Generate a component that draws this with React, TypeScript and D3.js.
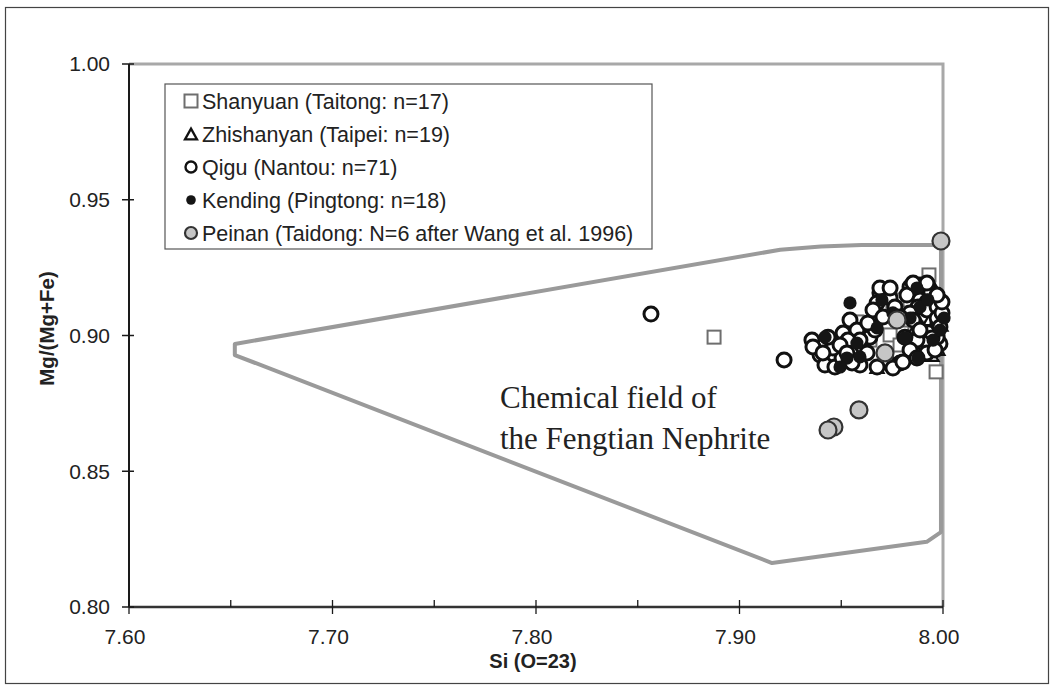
import React from "react";
import * as d3 from "d3";

// Si (O=23) vs Mg/(Mg+Fe) for Taiwanese nephrite localities
type Pt = [number, number];

const shanyuan: Pt[] = [
  [7.8875, 0.8994], [7.9931, 0.9223], [7.9966, 0.8866], [7.9577, 0.905],
  [7.9764, 0.9131], [7.969, 0.9094], [7.9813, 0.9057], [7.9862, 0.9039],
  [7.9912, 0.9075], [7.9961, 0.9112], [7.974, 0.9002], [7.9789, 0.8965],
  [7.9887, 0.8965], [7.9936, 0.902], [7.9641, 0.8983], [7.9838, 0.9131],
  [7.9975, 0.8983],
];

const zhishanyan: Pt[] = [
  [7.9676, 0.8884], [7.9946, 0.8928], [7.9912, 0.91], [7.9936, 0.906],
  [7.9961, 0.902], [7.9985, 0.909], [7.999, 0.904], [7.9975, 0.899],
  [7.995, 0.914], [7.992, 0.916], [7.99, 0.9], [7.996, 0.917],
  [7.993, 0.896], [7.987, 0.912], [7.989, 0.904], [7.9985, 0.912],
  [7.9975, 0.895], [7.985, 0.901], [7.991, 0.894],
];

const qigu: Pt[] = [
  [7.8565, 0.9079], [7.9219, 0.891],
  [7.9356, 0.8983], [7.9396, 0.8928], [7.942, 0.8891], [7.9469, 0.8884],
  [7.9504, 0.8917], [7.9459, 0.8954], [7.9509, 0.9009], [7.9543, 0.9057],
  [7.9592, 0.8891], [7.9607, 0.8958], [7.9641, 0.8994], [7.969, 0.9157],
  [7.9676, 0.912], [7.974, 0.9138], [7.994, 0.916], [7.9666, 0.902],
  [7.9965, 0.913], [7.993, 0.901], [7.9985, 0.897], [7.9725, 0.8902],
  [7.9789, 0.8899], [7.9975, 0.9045], [7.9838, 0.9179], [7.9823, 0.9149],
  [7.9887, 0.9131], [7.9921, 0.9123], [7.9877, 0.9105], [7.9838, 0.9083],
  [7.9853, 0.9057], [7.9921, 0.9094], [7.9971, 0.9105], [7.9971, 0.9064],
  [7.9985, 0.9031], [7.9971, 0.8994], [7.9946, 0.8991], [7.9902, 0.8972],
  [7.9872, 0.8983], [7.9813, 0.8994], [7.9887, 0.902], [7.9838, 0.8947],
  [7.9921, 0.8936], [7.9872, 0.8917], [7.9961, 0.8947], [7.9995, 0.9083],
  [7.9995, 0.9123], [7.9971, 0.9149], [7.9887, 0.9186], [7.9921, 0.9193],
  [7.9853, 0.9193], [7.9627, 0.8936], [7.9577, 0.902], [7.9631, 0.9046],
  [7.9592, 0.8983], [7.9533, 0.8983], [7.9494, 0.8965], [7.9435, 0.8994],
  [7.9361, 0.8958], [7.941, 0.8936], [7.9528, 0.8936], [7.9553, 0.8899],
  [7.9676, 0.8884], [7.9754, 0.888], [7.9656, 0.9094], [7.9705, 0.9068],
  [7.9764, 0.9105], [7.9789, 0.9068], [7.969, 0.9175], [7.974, 0.9175],
  [7.9803, 0.8902],
];

const kending: Pt[] = [
  [7.9543, 0.912], [7.942, 0.8994], [7.9577, 0.8972], [7.9528, 0.8917],
  [7.9592, 0.8921], [7.9676, 0.9028], [7.97, 0.9131], [7.9813, 0.8991],
  [7.9877, 0.8917], [7.9951, 0.8983], [7.9887, 0.9105], [7.9838, 0.9064],
  [7.9926, 0.9131], [7.9985, 0.902], [8.0005, 0.9064], [7.9872, 0.9175],
  [7.9754, 0.9083], [7.9494, 0.8884],
];

const peinan: Pt[] = [
  [7.999, 0.9348], [7.9774, 0.9057], [7.9715, 0.8936],
  [7.9587, 0.8726], [7.9464, 0.8663], [7.9435, 0.8652],
];

// Outline of the Fengtian nephrite chemical field
const fengtianField: Pt[] = [
  [7.652, 0.8969], [7.92, 0.9316], [7.94, 0.9328], [7.96, 0.9333],
  [7.999, 0.9333], [7.999, 0.8276], [7.992, 0.824], [7.916, 0.8162],
  [7.652, 0.8928],
];

const xTicks = [7.6, 7.7, 7.8, 7.9, 8.0];
const xMinorTicks = [7.65, 7.75, 7.85, 7.95];
const yTicks = [0.8, 0.85, 0.9, 0.95, 1.0];

const legendLabels = [
  "Shanyuan (Taitong: n=17)",
  "Zhishanyan (Taipei: n=19)",
  "Qigu (Nantou: n=71)",
  "Kending (Pingtong: n=18)",
  "Peinan (Taidong: N=6 after Wang et al. 1996)",
];

const W = 1057;
const H = 691;
const left = 129;
const right = 943;
const top = 64;
const bottom = 607;

const sans = "'Liberation Sans', Arial, Helvetica, sans-serif";
const serif = "'Liberation Serif', 'Times New Roman', serif";

const x = d3.scaleLinear().domain([7.6, 8.0]).range([left, right]);
const y = d3.scaleLinear().domain([0.8, 1.0]).range([bottom, top]);

function Square({ cx, cy, s = 13 }: { cx: number; cy: number; s?: number }) {
  return (
    <rect x={cx - s / 2} y={cy - s / 2} width={s} height={s}
      fill="white" stroke="#6e6e6e" strokeWidth={2} />
  );
}

function Triangle({ cx, cy, s = 13 }: { cx: number; cy: number; s?: number }) {
  const h = s * 0.9;
  const d = `M${cx},${cy - h / 2}L${cx + s / 2},${cy + h / 2}L${cx - s / 2},${cy + h / 2}Z`;
  return <path d={d} fill="white" stroke="#111" strokeWidth={2.3} />;
}

function OpenCircle({ cx, cy, r = 7, w = 3 }: { cx: number; cy: number; r?: number; w?: number }) {
  return <circle cx={cx} cy={cy} r={r} fill="white" stroke="#111" strokeWidth={w} />;
}

function Dot({ cx, cy, r = 6.6 }: { cx: number; cy: number; r?: number }) {
  return <circle cx={cx} cy={cy} r={r} fill="#151515" />;
}

function GrayCircle({ cx, cy, r = 8.5 }: { cx: number; cy: number; r?: number }) {
  return <circle cx={cx} cy={cy} r={r} fill="#c6c6c6" stroke="#333" strokeWidth={2.2} />;
}

export default function App() {
  const fieldPath = d3.line<Pt>()
    .x((d) => x(d[0]))
    .y((d) => y(d[1]))
    .curve(d3.curveLinearClosed)(fengtianField) || "";

  const legX = 165;
  const legY = 84;
  const legW = 487;
  const legH = 165;
  const legRow = (i: number) => legY + 17 + i * 33;
  const legSymX = legX + 26;
  const legTextX = legX + 37;

  return (
    <svg width={W} height={H} viewBox={`0 0 ${W} ${H}`}
      style={{ position: "absolute", left: 0, top: 0, background: "white" }}>
      {/* outer frame */}
      <rect x={5.5} y={7.5} width={1043} height={676} fill="none" stroke="#444" strokeWidth={1.2} />

      {/* plot area border (top and right) */}
      <path d={`M${left},${top}H${right}V${bottom}`} fill="none" stroke="#a8a8a8" strokeWidth={3} />

      {/* field outline */}
      <path d={fieldPath} fill="none" stroke="#9a9a9a" strokeWidth={4} strokeLinejoin="round" />

      {/* data series */}
      <g>
        {shanyuan.map((d, i) => <Square key={`s${i}`} cx={x(d[0])} cy={y(d[1])} />)}
      </g>
      <g>
        {zhishanyan.map((d, i) => <Triangle key={`z${i}`} cx={x(d[0])} cy={y(d[1])} />)}
      </g>
      <g>
        {qigu.map((d, i) => <OpenCircle key={`q${i}`} cx={x(d[0])} cy={y(d[1])} />)}
      </g>
      <g>
        {kending.map((d, i) => <Dot key={`k${i}`} cx={x(d[0])} cy={y(d[1])} />)}
      </g>
      <g>
        {peinan.map((d, i) => <GrayCircle key={`p${i}`} cx={x(d[0])} cy={y(d[1])} />)}
      </g>

      {/* axes */}
      <line x1={left} x2={left} y1={top} y2={bottom} stroke="#1a1a1a" strokeWidth={2} />
      <line x1={left} x2={right} y1={bottom} y2={bottom} stroke="#333" strokeWidth={2.5} />
      {yTicks.map((t) => (
        <g key={`yt${t}`}>
          <line x1={left - 7} x2={left + 5} y1={y(t)} y2={y(t)} stroke="#1a1a1a" strokeWidth={1.5} />
          <text x={left - 19} y={y(t)} dy="0.35em" textAnchor="end"
            fontFamily={sans} fontSize={21} fill="#222">{t.toFixed(2)}</text>
        </g>
      ))}
      {xTicks.map((t) => (
        <g key={`xt${t}`}>
          <line x1={x(t)} x2={x(t)} y1={bottom - 7} y2={bottom + 7} stroke="#1a1a1a" strokeWidth={1.3} />
          <text x={x(t) - 4} y={bottom + 30} dy="0.35em" textAnchor="middle"
            fontFamily={sans} fontSize={21} fill="#222">{t.toFixed(2)}</text>
        </g>
      ))}
      {xMinorTicks.map((t) => (
        <line key={`xm${t}`} x1={x(t)} x2={x(t)} y1={bottom - 7} y2={bottom}
          stroke="#1a1a1a" strokeWidth={1.3} />
      ))}

      {/* axis titles */}
      <text x={533} y={661} dy="0.35em" textAnchor="middle" fontFamily={sans}
        fontSize={20} fontWeight="bold" fill="#222">Si (O=23)</text>
      <text transform={`translate(47,${(top + bottom) / 2 - 7}) rotate(-90)`} dy="0.35em"
        textAnchor="middle" fontFamily={sans} fontSize={20.5} fontWeight="bold" fill="#222">
        Mg/(Mg+Fe)
      </text>

      {/* field label */}
      <text x={500} y={408} fontFamily={serif} fontSize={31} fill="#222">Chemical field of</text>
      <text x={500} y={449} fontFamily={serif} fontSize={31} fill="#222">the Fengtian Nephrite</text>

      {/* legend */}
      <rect x={legX} y={legY} width={legW} height={legH} fill="white" stroke="#555" strokeWidth={1.2} />
      <Square cx={legSymX} cy={legRow(0)} s={13} />
      <Triangle cx={legSymX} cy={legRow(1)} s={12} />
      <OpenCircle cx={legSymX} cy={legRow(2)} r={5.5} w={2.4} />
      <circle cx={legSymX} cy={legRow(3)} r={4.8} fill="#151515" />
      <GrayCircle cx={legSymX} cy={legRow(4)} r={6} />
      {legendLabels.map((lab, i) => (
        <text key={lab} x={legTextX} y={legRow(i)} dy="0.35em" fontFamily={sans}
          fontSize={21.5} fill="#222">{lab}</text>
      ))}
    </svg>
  );
}
